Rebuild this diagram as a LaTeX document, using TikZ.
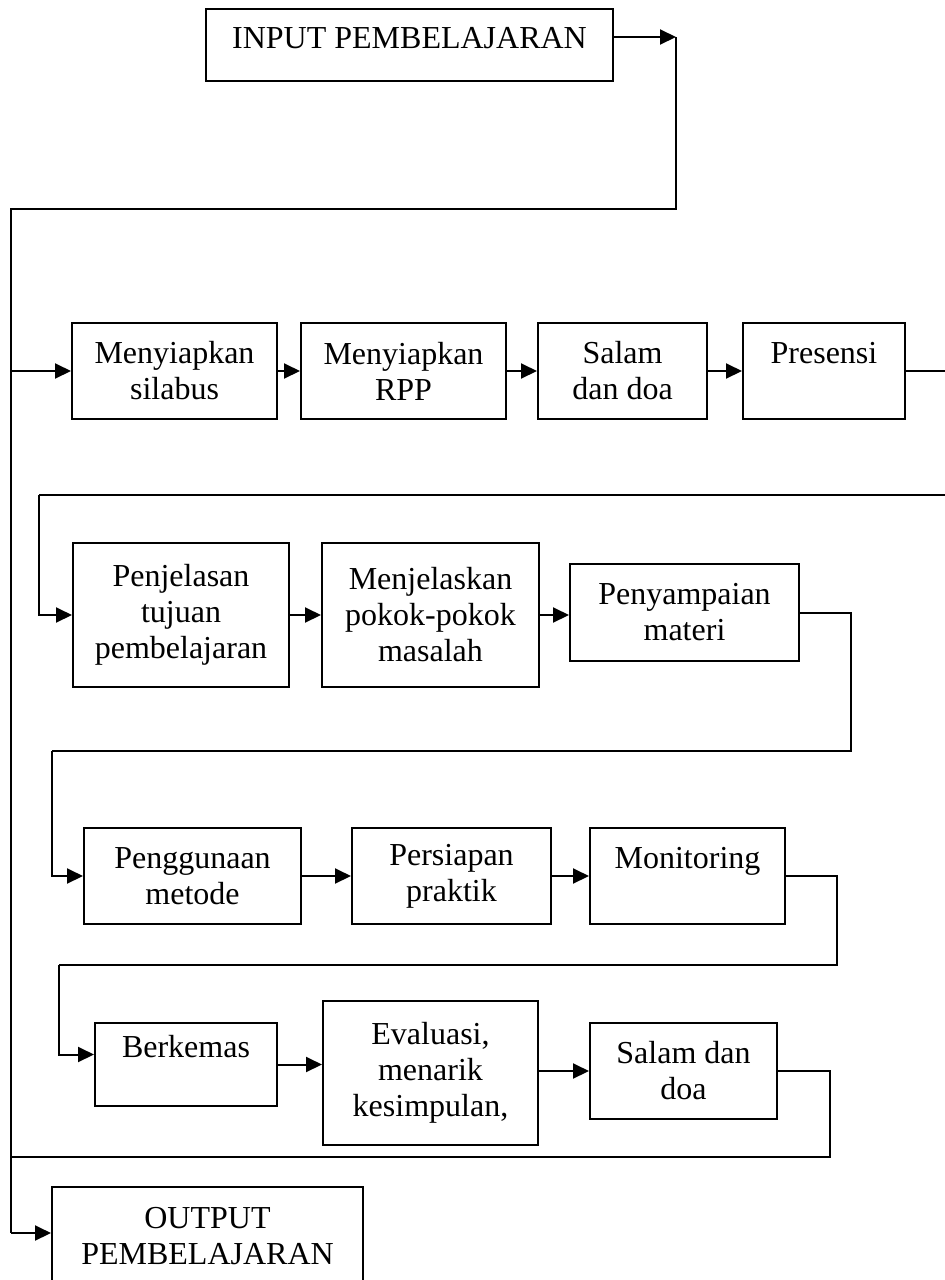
\documentclass[tikz,border=0pt]{standalone}
\usepackage{fontspec}
\setmainfont{Liberation Serif}
\usepackage{tikz}
\usetikzlibrary{arrows.meta,positioning}

\begin{document}
\begin{tikzpicture}[
    x=1pt, y=-1pt,
    font=\fontsize{32}{36}\selectfont,
    proc/.style={draw, rectangle, line width=2pt, inner sep=0pt, align=center},
    arrow/.style={-{Triangle[length=16pt,width=15pt]}, line width=2pt},
    line/.style={line width=2pt}
]
    \useasboundingbox (0,0) rectangle (945,1280);

    \node[proc, minimum width=407, minimum height=72] (input) at (409.5,45) {INPUT PEMBELAJARAN\\[-22pt]\mbox{}};

    % baris 1
    \node[proc, minimum width=205, minimum height=96] (silabus) at (174.5,371) {Menyiapkan\\silabus};
    \node[proc, minimum width=205, minimum height=96] (rpp) at (403.5,371) {Menyiapkan\\RPP};
    \node[proc, minimum width=169, minimum height=96] (salam) at (622.5,371) {Salam\\dan doa};
    \node[proc, minimum width=162, minimum height=96] (presensi) at (824,371) {Presensi\\\mbox{}};

    % baris 2
    \node[proc, minimum width=216, minimum height=144] (tujuan) at (181,615) {Penjelasan\\tujuan\\pembelajaran};
    \node[proc, minimum width=217, minimum height=144] (pokok) at (430.5,615) {Menjelaskan\\pokok-pokok\\masalah};
    \node[proc, minimum width=229, minimum height=97] (materi) at (684.5,612.5) {Penyampaian\\materi};

    % baris 3
    \node[proc, minimum width=217, minimum height=96] (metode) at (192.5,876) {Penggunaan\\metode};
    \node[proc, minimum width=199, minimum height=96] (praktik) at (451.5,876) {Persiapan\\praktik};
    \node[proc, minimum width=195, minimum height=96] (monitoring) at (687.5,876) {Monitoring\\\mbox{}};

    % baris 4
    \node[proc, minimum width=182, minimum height=83] (berkemas) at (186,1064.5) {Berkemas\\\mbox{}};
    \node[proc, minimum width=215, minimum height=144] (evaluasi) at (430.5,1073) {Evaluasi,\\menarik\\kesimpulan,};
    \node[proc, minimum width=187, minimum height=96] (salamakhir) at (683.5,1071) {Salam dan\\doa};

    \node[proc, minimum width=311, minimum height=98] (output) at (207.5,1236) {OUTPUT\\PEMBELAJARAN};

    \coordinate (inturn) at (676,37);
    \coordinate (kiriatas) at (11,209);
    \coordinate (kiribawah) at (11,1233);
    \coordinate (tepi1) at (945,371);
    \coordinate (tepi2) at (945,495);
    \coordinate (belok2) at (39,495);
    \coordinate (belok3a) at (851,751);
    \coordinate (belok3b) at (52,751);
    \coordinate (belok4a) at (837,965);
    \coordinate (belok4b) at (59,965);
    \coordinate (belok5) at (830,1157);

    % input ke jalur kiri
    \draw[arrow] (input.east |- inturn) -- (inturn);
    \draw[line] (inturn) |- (kiriatas) -- (kiribawah);
    \draw[arrow] (kiriatas |- silabus) -- (silabus);

    \draw[arrow] (silabus) -- (rpp);
    \draw[arrow] (rpp) -- (salam);
    \draw[arrow] (salam) -- (presensi);
    \draw[line] (presensi) -- (tepi1);

    \draw[line] (tepi2) -- (belok2);
    \draw[arrow] (belok2) |- (tujuan.west);
    \draw[arrow] (tujuan) -- (pokok);
    \draw[arrow] (pokok.east) -- (pokok.east -| materi.west);

    \draw[line] (materi.east) -| (belok3a) -- (belok3b);
    \draw[arrow] (belok3b) |- (metode.west);
    \draw[arrow] (metode) -- (praktik);
    \draw[arrow] (praktik) -- (monitoring);

    \draw[line] (monitoring.east) -| (belok4a) -- (belok4b);
    \draw[arrow] (belok4b) |- ([yshift=10pt]berkemas.west);
    \draw[arrow] (berkemas.east) -- (berkemas.east -| evaluasi.west);
    \draw[arrow] (evaluasi.east |- salamakhir.west) -- (salamakhir.west);

    \draw[line] (salamakhir.east) -| (belok5) -- (kiriatas |- belok5);
    \draw[arrow] (kiribawah) -- (kiribawah -| output.west);

\end{tikzpicture}
\end{document}
